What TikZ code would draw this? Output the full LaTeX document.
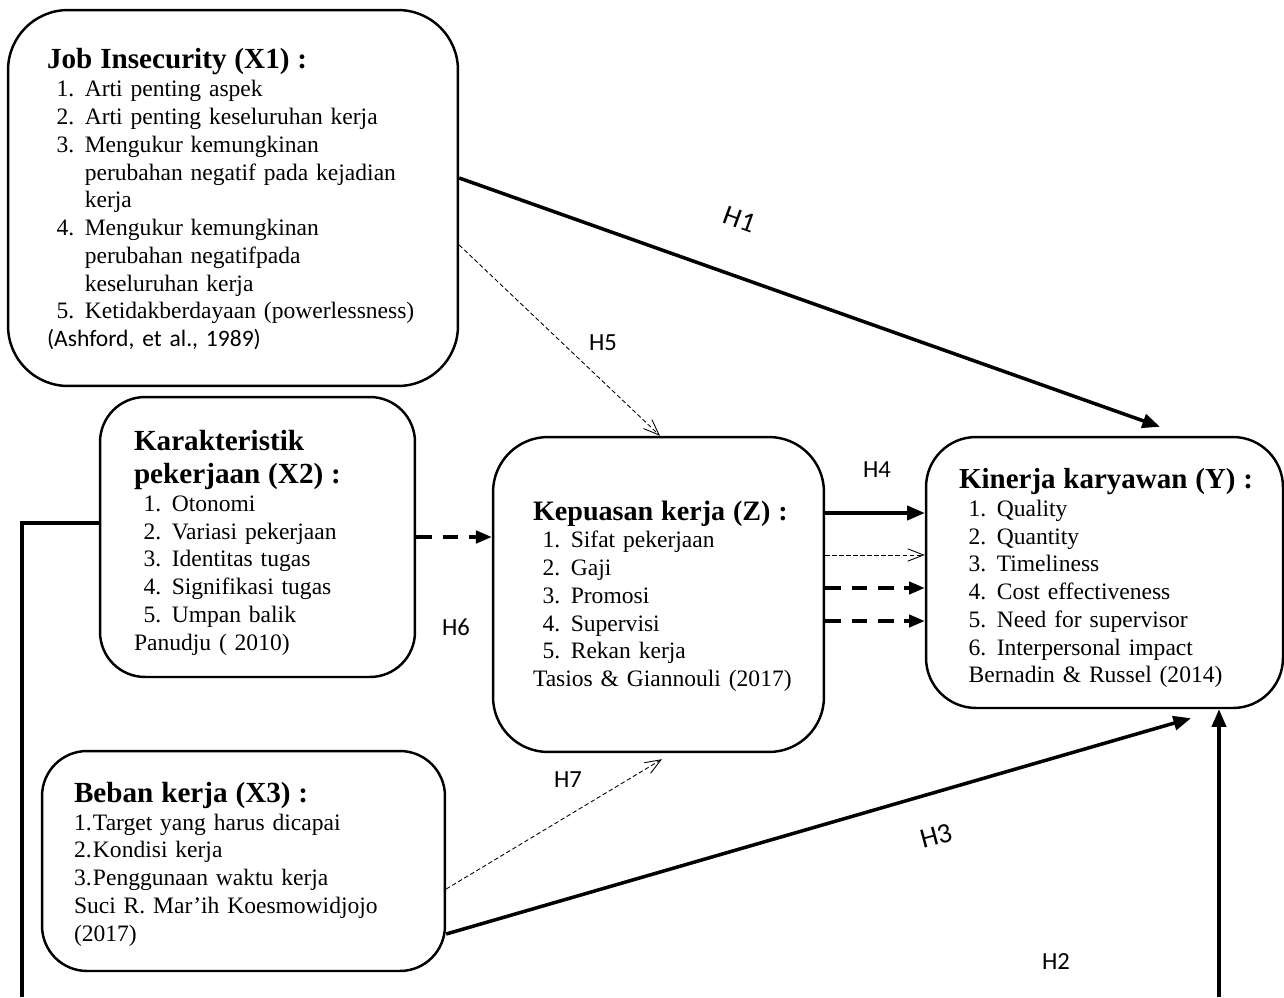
\documentclass[tikz,border=0pt]{standalone}
\usepackage{fontspec}
\setmainfont{Liberation Serif}
\newfontfamily\hfont{Carlito}
\usetikzlibrary{positioning,calc,arrows.meta}
\setlength{\parindent}{0pt}
\tikzset{BOX/.style={rectangle, draw, line width=1.4pt, align=left, font=\fontsize{13.4}{15.8}\selectfont}}
\tikzset{ARROW/.style={line width=2pt, -{Triangle[length=10pt,width=8pt]}}}
\tikzset{DASHARROW/.style={line width=2pt, dash pattern=on 9pt off 6pt, -{Triangle[length=9pt,width=7pt]}}}
\tikzset{THINARROW/.style={line width=0.5pt, dash pattern=on 2.5pt off 1.5pt, -{Straight Barb[length=9pt,width=7pt]}}}
\tikzset{HLABEL/.style={font=\hfont\fontsize{14}{16}\selectfont}}
\newcommand{\btitle}[2][16.6]{\mbox{\fontsize{#1}{20}\selectfont\bfseries #2}}
\newcommand{\bitem}[2]{\mbox{\hspace*{5.5pt}\makebox[16pt][l]{#1}#2}}
\newcommand{\bcont}[1]{\mbox{\hspace*{21.5pt}#1}}
\newcommand{\bnum}[2]{\mbox{\makebox[10.8pt][l]{#1}#2}}
\newcommand{\bsrc}[1]{\mbox{#1}}
\newcommand{\bpush}[1]{\rule{0pt}{#1}}

\begin{document}
\begin{tikzpicture}[x=0.02cm, y=-0.02cm]
    \useasboundingbox (0,0) rectangle (1284,997);

    \node[BOX, minimum width=9cm, minimum height=7.52cm, rounded corners=1.2cm, inner xsep=0.78cm, text width=7.44cm] (n_x1) at (233,198) {
        \bpush{13pt}\btitle{Job Insecurity (X1) :}\\
        \bitem{1.}{Arti penting aspek}\\
        \bitem{2.}{Arti penting keseluruhan kerja}\\
        \bitem{3.}{Mengukur kemungkinan}\\
        \bcont{perubahan negatif pada kejadian}\\
        \bcont{kerja}\\
        \bitem{4.}{Mengukur kemungkinan}\\
        \bcont{perubahan negatifpada}\\
        \bcont{keseluruhan kerja}\\
        \bitem{5.}{Ketidakberdayaan (powerlessness)}\\
        \bsrc{\hfont (Ashford, et al., 1989)}
    };

    \node[BOX, minimum width=6.3cm, minimum height=5.6cm, rounded corners=0.9cm, inner xsep=0.68cm, text width=4.94cm] (n_x2) at (257.5,537) {
        \bpush{18pt}\btitle{Karakteristik}\\[3pt]
        \btitle{pekerjaan (X2) :}\\
        \bitem{1.}{Otonomi}\\
        \bitem{2.}{Variasi pekerjaan}\\
        \bitem{3.}{Identitas tugas}\\
        \bitem{4.}{Signifikasi tugas}\\
        \bitem{5.}{Umpan balik}\\
        \bsrc{Panudju ( 2010)}
    };

    \node[BOX, minimum width=6.62cm, minimum height=6.3cm, rounded corners=1.1cm, inner xsep=0.8cm, text width=5.02cm] (n_z) at (658.5,594.5) {
        \bpush{13pt}\btitle[16]{Kepuasan kerja (Z) :}\\
        \bitem{1.}{Sifat pekerjaan}\\
        \bitem{2.}{Gaji}\\
        \bitem{3.}{Promosi}\\
        \bitem{4.}{Supervisi}\\
        \bitem{5.}{Rekan kerja}\\
        \bsrc{Tasios \& Giannouli (2017)}
    };

    \node[BOX, minimum width=7.14cm, minimum height=5.42cm, rounded corners=1cm, inner xsep=0.66cm, text width=5.82cm] (n_y) at (1104.5,572.5) {
        \bpush{18pt}\btitle[16.5]{Kinerja karyawan (Y) :}\\
        \bitem{1.}{Quality}\\
        \bitem{2.}{Quantity}\\
        \bitem{3.}{Timeliness}\\
        \bitem{4.}{Cost effectiveness}\\
        \bitem{5.}{Need for supervisor}\\
        \bitem{6.}{Interpersonal impact}\\
        \bsrc{\hspace*{5.5pt}Bernadin \& Russel (2014)}
    };

    \node[BOX, minimum width=8.06cm, minimum height=4.4cm, rounded corners=0.9cm, inner xsep=0.64cm, text width=6.78cm] (n_x3) at (243.5,861) {
        \bpush{15pt}\btitle{Beban kerja (X3) :}\\
        \bnum{1.}{Target yang harus dicapai}\\
        \bnum{2.}{Kondisi kerja}\\
        \bnum{3.}{Penggunaan waktu kerja}\\
        \bsrc{Suci R. Mar’ih Koesmowidjojo}\\
        \bsrc{(2017)}
    };

    % free ends
    \coordinate (h1_end) at ($(n_y.north)+(55.5,-9)$);
    \coordinate (h3_end) at ($(n_y.south)+(86.5,9)$);
    \coordinate (h7_end) at ($(n_z.south)+(3.5,6)$);
    \coordinate (h2_start) at (1219,997);
    \coordinate (left_end) at (22,997);

    \draw[ARROW] ($(n_x1.east)+(0,-20)$) -- (h1_end);
    \draw[THINARROW] ($(n_x1.east)+(0,47)$) -- ($(n_z.north)+(1.5,0)$);
    \draw[DASHARROW] (n_x2.east) -- (n_x2.east -| n_z.west);
    \draw[line width=2pt] ($(n_x2.west)+(0,-14)$) -| (left_end);

    \coordinate (zy1) at ($(n_z.east)+(0,-81.5)$);
    \coordinate (zy2) at ($(n_z.east)+(0,-39.5)$);
    \coordinate (zy3) at ($(n_z.east)+(0,-6.5)$);
    \coordinate (zy4) at ($(n_z.east)+(0,26.5)$);
    \draw[ARROW] (zy1) -- (zy1 -| n_y.west);
    \draw[THINARROW] (zy2) -- (zy2 -| n_y.west);
    \draw[DASHARROW] (zy3) -- (zy3 -| n_y.west);
    \draw[DASHARROW] (zy4) -- (zy4 -| n_y.west);

    \draw[THINARROW] ($(n_x3.east)+(0,28)$) -- (h7_end);
    \draw[ARROW] ($(n_x3.east)+(0,73)$) -- (h3_end);
    \draw[ARROW] (h2_start) -- (h2_start |- n_y.south);

    % labels
    \node[HLABEL, font=\hfont\fontsize{16}{18}\selectfont, rotate=-20] (l_h1) at (740,219) {H1};
    \node[HLABEL] (l_h5) at (603,343) {H5};
    \node[HLABEL] (l_h4) at (877,470) {H4};
    \node[HLABEL] (l_h6) at (456,627) {H6};
    \node[HLABEL] (l_h7) at (568,780) {H7};
    \node[HLABEL, font=\hfont\fontsize{16}{18}\selectfont, rotate=15] (l_h3) at (936,836) {H3};
    \node[HLABEL] (l_h2) at (1056,962) {H2};
\end{tikzpicture}
\end{document}
